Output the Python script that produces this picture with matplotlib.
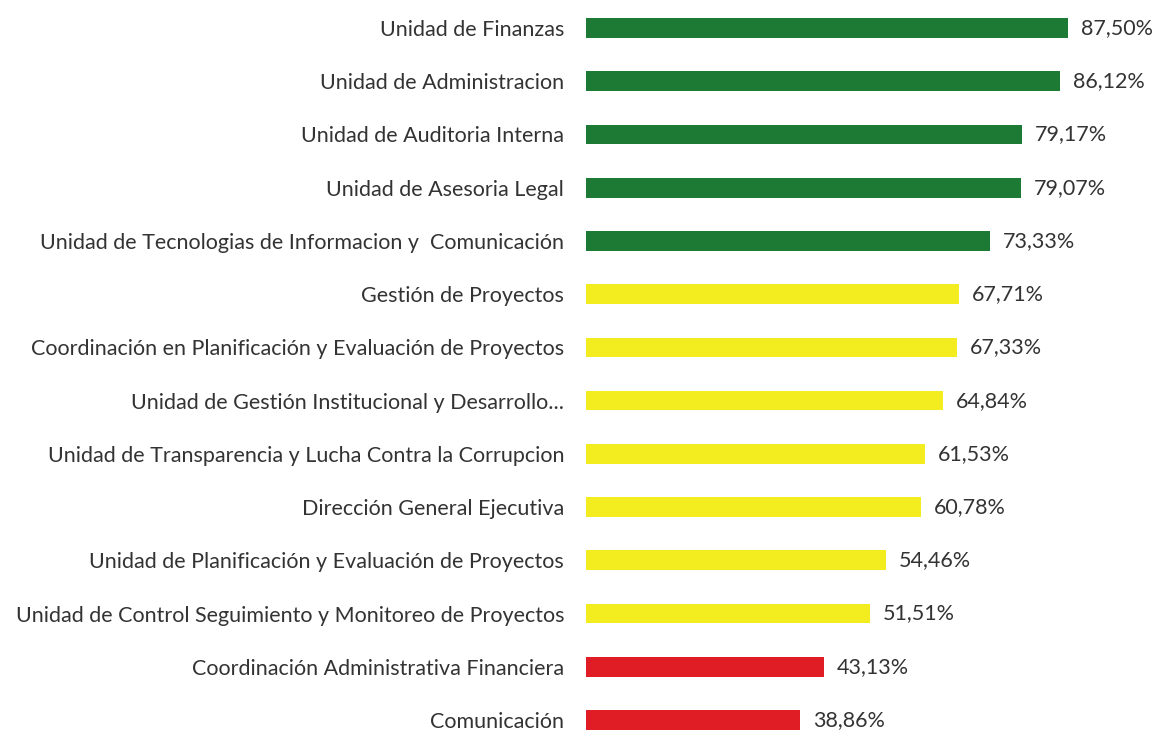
import matplotlib.pyplot as plt

areas = [
    "Unidad de Finanzas",
    "Unidad de Administracion",
    "Unidad de Auditoria Interna",
    "Unidad de Asesoria Legal",
    "Unidad de Tecnologias de Informacion y  Comunicación",
    "Gestión de Proyectos",
    "Coordinación en Planificación y Evaluación de Proyectos",
    "Unidad de Gestión Institucional y Desarrollo...",
    "Unidad de Transparencia y Lucha Contra la Corrupcion",
    "Dirección General Ejecutiva",
    "Unidad de Planificación y Evaluación de Proyectos",
    "Unidad de Control Seguimiento y Monitoreo de Proyectos",
    "Coordinación Administrativa Financiera",
    "Comunicación",
]
avance = [87.50, 86.12, 79.17, 79.07, 73.33, 67.71, 67.33,
          64.84, 61.53, 60.78, 54.46, 51.51, 43.13, 38.86]

def color_for(v):
    if v >= 70:
        return "#1d7a34"
    if v >= 50:
        return "#f3ec1e"
    return "#e01c24"

plt.rcParams['font.family'] = ['Lato', 'DejaVu Sans']

fig = plt.figure(figsize=(11.54, 7.31), dpi=100)
ax = fig.add_axes([0.508, 0.0, 0.477, 1.0])

pos = list(range(len(areas)))
ax.barh(pos, avance, height=0.37, color=[color_for(v) for v in avance])

for p, v in zip(pos, avance):
    ax.text(v + 2.3, p, f"{v:.2f}%".replace(".", ","), va="center", ha="left",
            fontsize=15.5, color="#333333")

ax.set_yticks(pos)
ax.set_yticklabels(areas, fontsize=15.5, color="#333333")
ax.tick_params(axis="y", length=0, pad=16)
ax.set_xticks([])
ax.set_xlim(0, 100)
ax.set_ylim(13.207, -0.526)
for s in ax.spines.values():
    s.set_visible(False)

fig.savefig("out.png", dpi=100)
